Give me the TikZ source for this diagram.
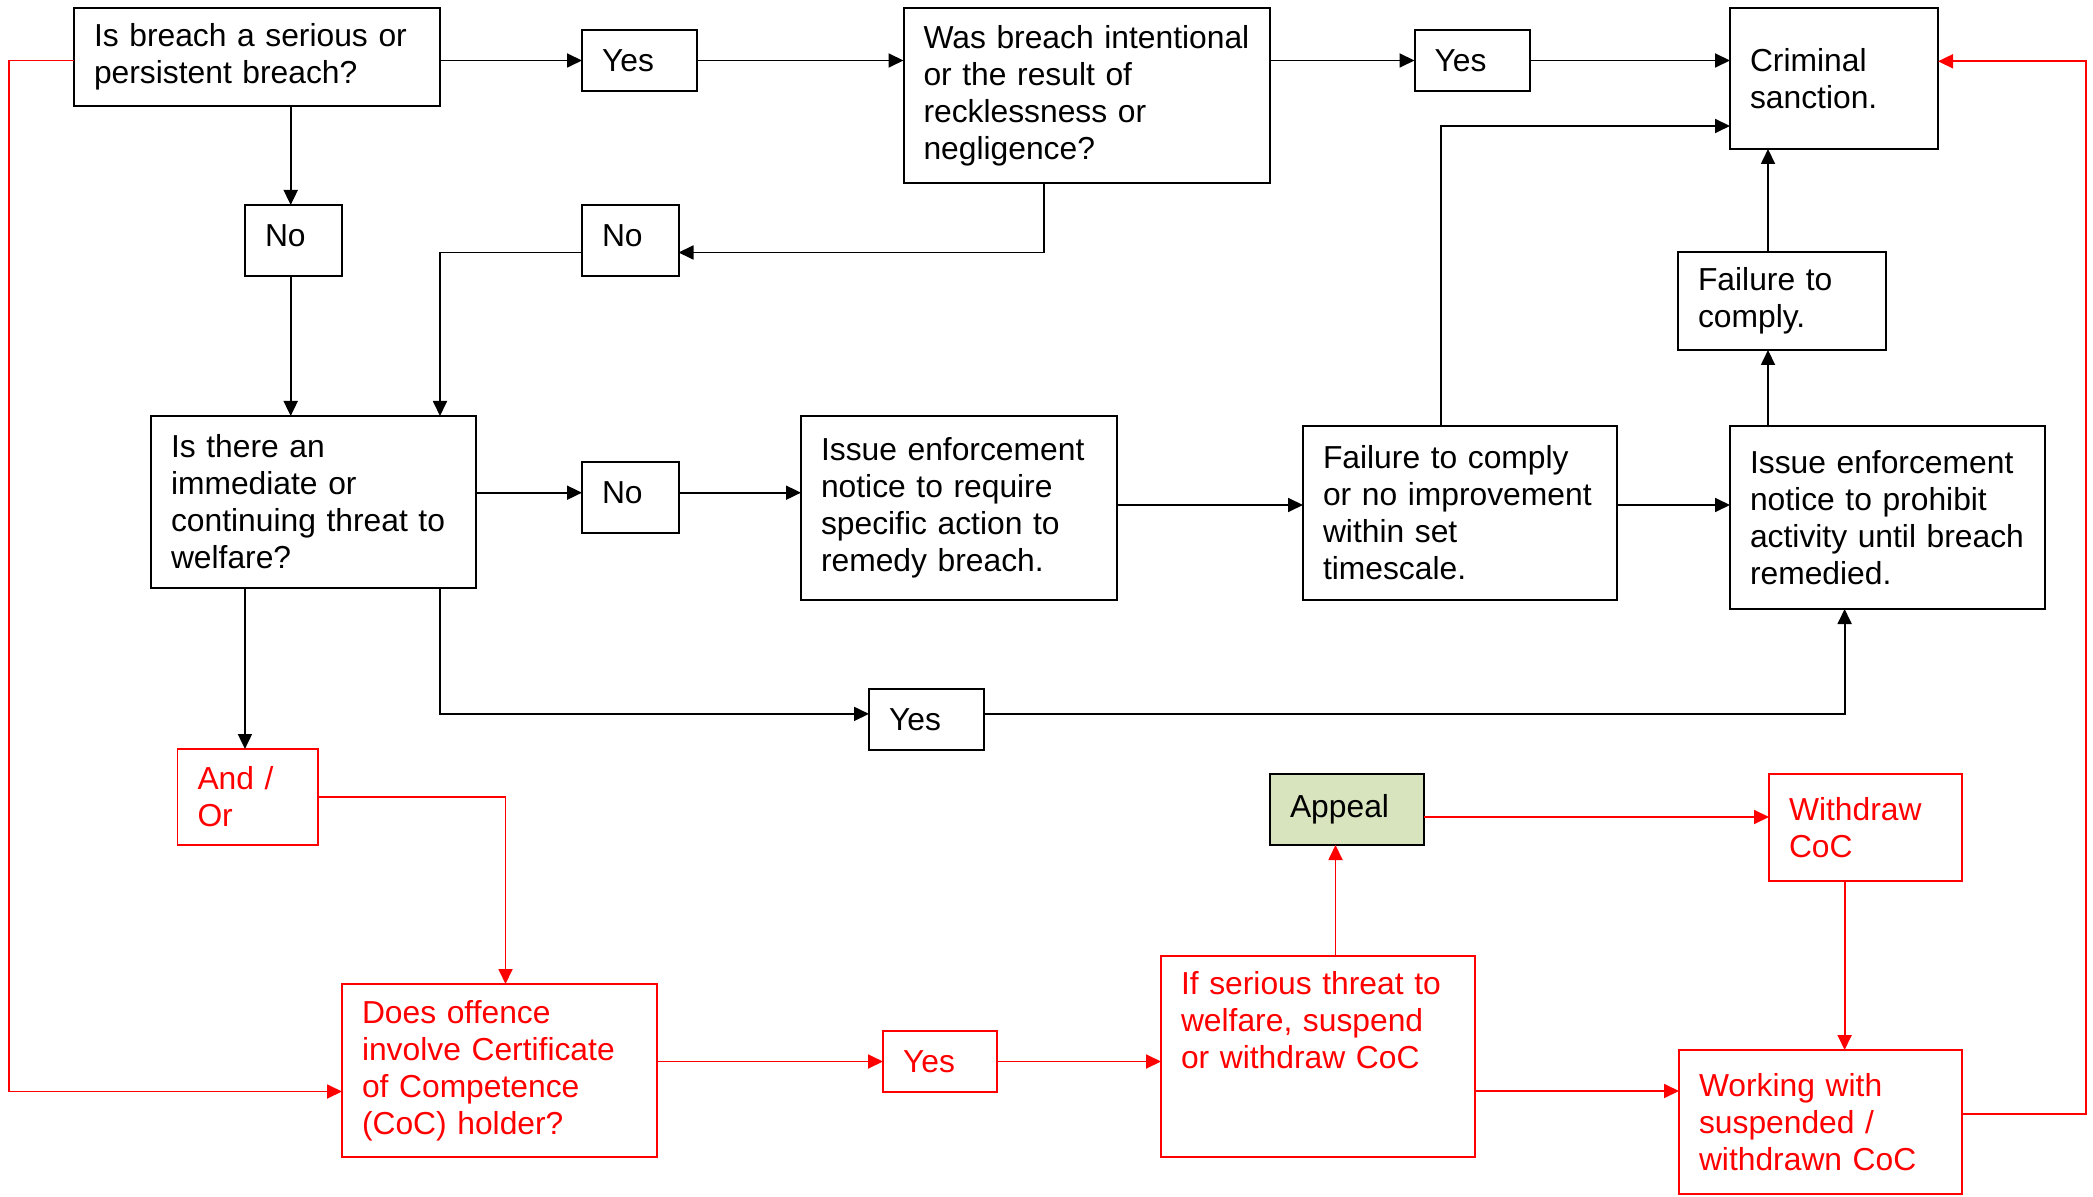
\documentclass[tikz,border=0pt]{standalone}
\usepackage{fontspec}
\setmainfont{Liberation Sans}
\usetikzlibrary{arrows.meta}
\definecolor{appealgreen}{HTML}{D7E4BD}
\newcommand\mkbox[7]{%
  \pgfmathsetmacro\mkw{(#4-#2)*0.5}%
  \pgfmathsetmacro\mkh{(#5-#3)*0.5}%
  \pgfmathsetmacro\mkt{\mkw-20}%
  \node[#6, minimum width=\mkw pt, minimum height=\mkh pt, text width=\mkt pt] (#1) at (#2,#3) {#7};}
\begin{document}
\begin{tikzpicture}[x=0.5pt, y=-0.5pt,
  box/.style={draw=black, line width=1pt, anchor=north west, outer sep=0pt,
    inner xsep=10pt, inner ysep=0pt, align=left, text=black,
    font=\fontsize{15.9}{18.5}\selectfont},
  nobox/.style={box, text depth=5pt},
  rbox/.style={box, draw=red, text=red, line width=0.9pt},
  gbox/.style={box, fill=appealgreen},
  arr/.style={line width=0.9pt, draw=black, -{Triangle[length=7.5pt,width=7pt]}},
  rarr/.style={arr, draw=red, color=red}]
\fill[white] (0,0) rectangle (2093,1197);
\useasboundingbox (0,0) rectangle (2093,1197);

\mkbox{b1}{74}{8}{440}{106}{box}{Is breach a serious or\\persistent breach?}
\mkbox{yes1}{582}{30}{697}{91}{box}{Yes}
\mkbox{was}{903.5}{8}{1269.5}{183.5}{box}{Was breach intentional\\or the result of\\recklessness or\\negligence?}
\mkbox{yes2}{1414.5}{30}{1530}{91}{box}{Yes}
\mkbox{crim}{1730}{8}{1938}{149}{box}{Criminal\\sanction.}
\mkbox{no1}{245}{205}{342}{276}{nobox}{No}
\mkbox{no2}{582}{205}{678.5}{276}{nobox}{No}
\mkbox{threat}{151}{416}{476}{588}{box}{Is there an\\immediate or\\continuing threat to\\welfare?}
\mkbox{no3}{582}{462}{678.5}{533}{nobox}{No}
\mkbox{issue1}{801}{416}{1116.5}{600}{box}{Issue enforcement\\notice to require\\specific action to\\remedy breach.}
\mkbox{fail1}{1303}{426}{1617}{600}{box}{Failure to comply\\or no improvement\\within set\\timescale.}
\mkbox{issue2}{1730}{426}{2045}{609}{box}{Issue enforcement\\notice to prohibit\\activity until breach\\remedied.}
\mkbox{fail2}{1678}{252}{1886}{350}{box}{Failure to\\comply.}
\mkbox{yes3}{869}{689}{984}{750}{box}{Yes}
\mkbox{andor}{177.5}{749}{318}{845}{rbox}{And /\\Or}
\mkbox{appeal}{1270}{774}{1424}{845}{gbox}{Appeal}
\mkbox{withdraw}{1769}{774}{1962}{881}{rbox}{Withdraw\\CoC}
\mkbox{does}{342}{984}{657}{1157}{rbox}{Does offence\\involve Certificate\\of Competence\\(CoC) holder?}
\mkbox{yes4}{883}{1031}{997}{1092}{rbox}{Yes}
\mkbox{ifser}{1161}{956}{1475}{1157}{rbox}{If serious threat to\\welfare, suspend\\or withdraw CoC\\~\\~}
\mkbox{working}{1679}{1050}{1962}{1194}{rbox}{Working with\\suspended /\\withdrawn CoC}

% black connectors
\draw[arr] (b1.east |- yes1.west) -- (yes1.west);
\draw[arr] (yes1.east) -- (yes1.east -| was.west);
\draw[arr] (was.east |- yes2.west) -- (yes2.west);
\draw[arr] (yes2.east) -- (yes2.east -| crim.west);
\coordinate (b1B) at ([xshift=-1.4pt]no1.north);
\draw[arr] (b1B |- b1.south) -- (b1B);
\draw[arr] (b1B |- no1.south) -- (b1B |- threat.north);
\coordinate (wasB) at ([xshift=70.25pt]was.south west);
\coordinate (no2E) at ([yshift=-6pt]no2.east);
\coordinate (no2W) at ([yshift=-6pt]no2.west);
\coordinate (thT) at ([xshift=144.5pt]threat.north west);
\draw[arr] (wasB) |- (no2E);
\draw[arr] (no2W) -| (thT);
\coordinate (no3W) at ([yshift=2.4pt]no3.west);
\draw[arr] (threat.east |- no3W) -- (no3W);
\draw[arr] (no3W -| no3.east) -- (no3W -| issue1.west);
\coordinate (is1E) at ([yshift=1.5pt]issue1.east);
\draw[arr] (is1E) -- (is1E -| fail1.west);
\draw[arr] (is1E -| fail1.east) -- (is1E -| issue2.west);
\coordinate (f1T) at ([xshift=68.85pt]fail1.north west);
\coordinate (crW) at ([yshift=-23.75pt]crim.west);
\draw[arr] (f1T) |- (crW);
\coordinate (f2x) at ([xshift=19pt]issue2.north west);
\draw[arr] (f2x) -- (f2x |- fail2.south);
\draw[arr] (f2x |- fail2.north) -- (f2x |- crim.south);
\coordinate (aoT) at ([xshift=-1.4pt]andor.north);
\draw[arr] (aoT |- threat.south) -- (aoT);
\coordinate (thB) at ([xshift=144.5pt]threat.south west);
\coordinate (y3W) at ([yshift=2.8pt]yes3.west);
\draw[arr] (thB) |- (y3W);
\coordinate (is2B) at ([xshift=57.3pt]issue2.south west);
\draw[arr] (y3W -| yes3.east) -| (is2B);

% red connectors
\coordinate (redL) at (9,0);
\coordinate (redR) at (2086,0);
\coordinate (doesin) at ([yshift=-10.5pt]does.west);
\draw[rarr] (b1.west |- yes1.west) -| (redL |- doesin) -- (doesin);
\coordinate (doesT) at ([xshift=3pt]does.north);
\draw[rarr] (andor.east) -| (doesT);
\draw[rarr] (does.east |- yes4.west) -- (yes4.west);
\draw[rarr] (yes4.east) -- (yes4.east -| ifser.west);
\coordinate (apB) at ([xshift=-5.75pt]appeal.south);
\draw[rarr] (apB |- ifser.north) -- (apB);
\coordinate (apE) at ([yshift=-3.75pt]appeal.east);
\draw[rarr] (apE) -- (apE -| withdraw.west);
\coordinate (wdB) at ([xshift=37.8pt]withdraw.south west);
\draw[rarr] (wdB) -- (wdB |- working.north);
\coordinate (ifE) at ([yshift=-17.25pt]ifser.east);
\draw[rarr] (ifE) -- (ifE -| working.west);
\coordinate (wkE) at ([yshift=4.15pt]working.east);
\coordinate (crE) at ([yshift=8.6pt]crim.east);
\draw[rarr] (wkE) -| (redR |- crE) -- (crE);
\end{tikzpicture}
\end{document}
